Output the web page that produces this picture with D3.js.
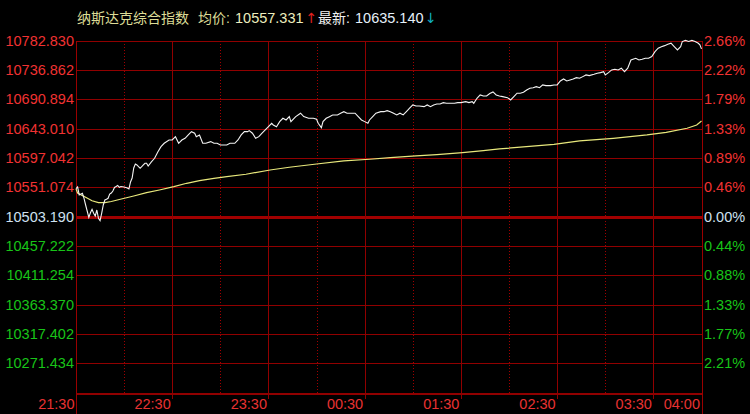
<!DOCTYPE html>
<html><head><meta charset="utf-8">
<script src="https://cdn.jsdelivr.net/npm/d3@7"></script>
<style>html,body{margin:0;padding:0;background:#000;overflow:hidden;} svg{display:block;}</style>
</head><body>
<svg id="c" width="750" height="414"></svg>
<script>
// ---------- data ----------
const titleName = "纳斯达克综合指数";
const avgLabel = "均价:";
const avgPrice = "10557.331";
const lastLabel = "最新:";
const lastPrice = "10635.140";

const priceLabels = ["10782.830","10736.862","10690.894","10643.010","10597.042","10551.074",
                     "10503.190","10457.222","10411.254","10363.370","10317.402","10271.434"];
const pctLabels = ["2.66%","2.22%","1.79%","1.33%","0.89%","0.46%",
                   "0.00%","0.44%","0.88%","1.33%","1.77%","2.21%"];
const baseIndex = 6;
const timeLabels = ["21:30","22:30","23:30","00:30","01:30","02:30","03:30","04:00"];
const hourLines = ["22:00","23:00","00:00","01:00","02:00","03:00"];

// minutes after 21:30
const priceMinutes = [0,1,2,4,5,6,8,9,10,11,12,13,14,15,16,17,18,19,20,21,22,23,24,25,26,27,28,30,32,33,34,35,36,37,38,39,40,42,43,44,45,47,49,51,53,55,58,60,62,64,66,68,70,72,74,75,77,79,81,84,86,88,90,92,94,96,99,101,103,105,107,108,110,112,114,116,118,120,122,123,125,127,129,131,133,134,137,140,142,145,148,150,151,153,154,156,158,160,163,165,167,169,171,174,176,178,180,182,183,185,187,190,192,194,196,198,200,202,204,206,208,210,212,214,217,219,221,223,225,227,229,231,233,236,238,240,243,245,247,248,250,252,254,256,258,260,262,264,266,269,271,273,275,277,279,281,283,285,287,289,291,293,296,298,300,302,304,306,308,310,312,314,316,318,320,323,325,327,329,330,332,334,336,338,340,342,344,346,349,351,353,355,357,359,361,363,365,367,369,371,373,375,377,378,380,382,384,386,388,389,390];
const priceValues = [10548.0,10550.7,10538.1,10540.8,10532.8,10522.2,10502.7,10510.0,10515.4,10509.1,10504.8,10514.3,10501.1,10497.3,10509.1,10522.2,10530.1,10531.2,10532.8,10539.6,10541.2,10544.4,10550.0,10551.5,10553.1,10550.3,10551.5,10550.7,10549.2,10547.6,10558.7,10565.0,10580.9,10587.2,10585.6,10582.9,10580.4,10585.6,10588.3,10588.3,10584.0,10590.4,10596.2,10606.2,10614.6,10620.0,10625.2,10625.2,10630.5,10620.0,10625.2,10627.9,10633.2,10638.4,10635.9,10630.5,10633.2,10620.0,10620.0,10622.6,10620.0,10620.0,10617.3,10617.3,10617.3,10620.0,10620.0,10625.2,10633.2,10638.4,10638.4,10640.0,10635.9,10627.9,10630.5,10635.9,10641.1,10646.3,10651.7,10649.0,10646.3,10654.3,10659.6,10656.9,10662.2,10654.3,10662.2,10667.6,10662.2,10659.6,10659.6,10658.1,10651.7,10644.7,10654.3,10659.6,10662.2,10664.9,10664.9,10667.6,10670.1,10667.6,10667.6,10667.6,10662.2,10656.9,10654.3,10651.7,10656.9,10662.2,10667.6,10670.1,10670.1,10671.7,10670.1,10667.6,10664.9,10667.6,10664.9,10670.1,10675.5,10680.7,10679.1,10679.1,10678.0,10680.7,10678.0,10680.7,10682.3,10682.3,10684.4,10683.4,10683.4,10683.4,10684.4,10684.4,10686.0,10684.4,10686.0,10683.4,10691.3,10696.6,10695.0,10695.0,10698.9,10701.3,10696.6,10695.0,10693.9,10692.3,10688.6,10693.9,10699.3,10699.3,10700.8,10704.5,10707.2,10708.1,10709.7,10708.1,10712.4,10711.3,10711.3,10712.4,10712.4,10718.8,10721.9,10718.8,10720.3,10721.9,10724.0,10723.0,10725.6,10728.3,10727.2,10729.4,10731.0,10731.9,10733.5,10728.3,10731.9,10736.2,10737.3,10736.2,10738.9,10733.5,10738.9,10752.0,10754.7,10752.0,10753.2,10754.7,10754.7,10757.3,10765.2,10770.6,10773.1,10774.7,10776.9,10778.5,10773.1,10767.9,10773.1,10781.1,10783.0,10781.4,10783.0,10781.1,10778.5,10776.0,10769.5];

const avgMinutes = [0,1,6,10,14,18,22,27,36,44,52,61,69,77,86,94,106,121,133,150,167,183,196,212,225,241,254,264,298,314,335,356,368,381,387,390];
const avgValues = [10548.0,10541.2,10534.4,10529.0,10525.9,10525.9,10527.8,10530.9,10536.5,10541.7,10546.0,10551.2,10556.6,10560.7,10564.5,10567.1,10570.9,10577.7,10582.0,10587.2,10592.0,10594.7,10597.2,10599.9,10601.9,10605.1,10608.3,10611.0,10618.4,10623.7,10627.9,10633.2,10637.4,10643.8,10649.0,10655.4];

// ---------- layout ----------
const L = 76, R = 701.5, T = 40.5, B = 393.5;
const svg = d3.select("#c");
svg.append("rect").attr("width",750).attr("height",414).attr("fill","#000");

const x = d3.scaleLinear().domain([0, 390]).range([L, R]);
const y = d3.scaleLinear().domain([10223.55, 10782.83]).range([B, T]);
function toMin(s){ const p = s.split(":").map(Number); let v = p[0]*60 + p[1] - (21*60+30); if (v < 0) v += 1440; return v; }

const gridColor = "#900000";
const font = "'Liberation Sans', Arial, 'Noto Sans CJK SC', sans-serif";

const g = svg.append("g").attr("shape-rendering","crispEdges");

// horizontal grid lines
priceLabels.forEach((s, i) => {
  const yy = Math.round(y(+s)) + 0.5;
  g.append("line").attr("x1", L).attr("x2", R).attr("y1", yy).attr("y2", yy)
    .attr("stroke", i === baseIndex ? "#a00000" : gridColor)
    .attr("stroke-width", i === baseIndex ? 3 : 1);
});
// bottom axis line
g.append("line").attr("x1", L).attr("x2", R).attr("y1", B+0.5).attr("y2", B+0.5)
  .attr("stroke", "#900000").attr("stroke-width", 2);

// dotted hour lines
hourLines.forEach(s => {
  const xx = Math.round(x(toMin(s))) + 0.5;
  g.append("line").attr("x1", xx).attr("x2", xx).attr("y1", T).attr("y2", B)
    .attr("stroke", "#a00000").attr("stroke-width", 1).attr("stroke-dasharray", "1,2");
});
// solid half-hour lines
timeLabels.slice(1, -1).forEach(s => {
  const xx = Math.round(x(toMin(s))) + 0.5;
  g.append("line").attr("x1", xx).attr("x2", xx).attr("y1", T).attr("y2", B + 5)
    .attr("stroke", gridColor).attr("stroke-width", 1);
});
// borders
[L, R].forEach(v => {
  const xx = Math.round(v) + 0.5;
  g.append("line").attr("x1", xx).attr("x2", xx).attr("y1", T).attr("y2", 414)
    .attr("stroke", "#9a0000").attr("stroke-width", 1);
});

// ---------- lines ----------
const avgLine = d3.line().x((d, i) => x(avgMinutes[i])).y(d => y(d));
svg.append("path").datum(avgValues).attr("d", avgLine)
  .attr("fill", "none").attr("stroke", "#e8e87c").attr("stroke-width", 1.2);

const priceLine = d3.line().x((d, i) => x(priceMinutes[i])).y(d => y(d));
svg.append("path").datum(priceValues).attr("d", priceLine)
  .attr("fill", "none").attr("stroke", "#f4f4f4").attr("stroke-width", 1.1);

// ---------- labels ----------
const red = "#f03232", green = "#18c418", neutral = "#cfe0f0";
priceLabels.forEach((s, i) => {
  const c = i < baseIndex ? red : (i === baseIndex ? neutral : green);
  svg.append("text").attr("x", 74).attr("y", y(+s)).attr("dy", "0.36em")
    .attr("text-anchor", "end").attr("fill", c)
    .attr("font-family", font).attr("font-size", "14.5px").text(s);
  svg.append("text").attr("x", 704).attr("y", y(+s)).attr("dy", "0.36em")
    .attr("text-anchor", "start").attr("fill", c)
    .attr("font-family", font).attr("font-size", "14.5px").text(pctLabels[i]);
});
timeLabels.forEach(s => {
  svg.append("text").attr("x", x(toMin(s)) - 1.5).attr("y", 409)
    .attr("text-anchor", "end").attr("fill", "#e83232")
    .attr("font-family", font).attr("font-size", "14.5px").text(s);
});

// ---------- title ----------
const title = svg.append("text").attr("y", 23).attr("font-family", font).attr("font-size", "14px");
title.append("tspan").attr("x", 77).attr("fill", "#dcdc96").text(titleName);
title.append("tspan").attr("x", 198).attr("fill", "#dcdc96").text(avgLabel);
title.append("tspan").attr("x", 235).attr("fill", "#eeeebe").attr("font-size", "14.5px").text(avgPrice);
title.append("tspan").attr("x", 305.5).attr("fill", "#e02020").attr("font-family", "'DejaVu Sans'").attr("font-size", "14px").text("↑");
title.append("tspan").attr("x", 318).attr("fill", "#f0f0f0").text(lastLabel);
title.append("tspan").attr("x", 355).attr("fill", "#e6f0fa").attr("font-size", "14.5px").text(lastPrice);
title.append("tspan").attr("x", 425).attr("fill", "#10b0c0").attr("font-family", "'DejaVu Sans'").attr("font-size", "14px").text("↓");
</script>
</body></html>
